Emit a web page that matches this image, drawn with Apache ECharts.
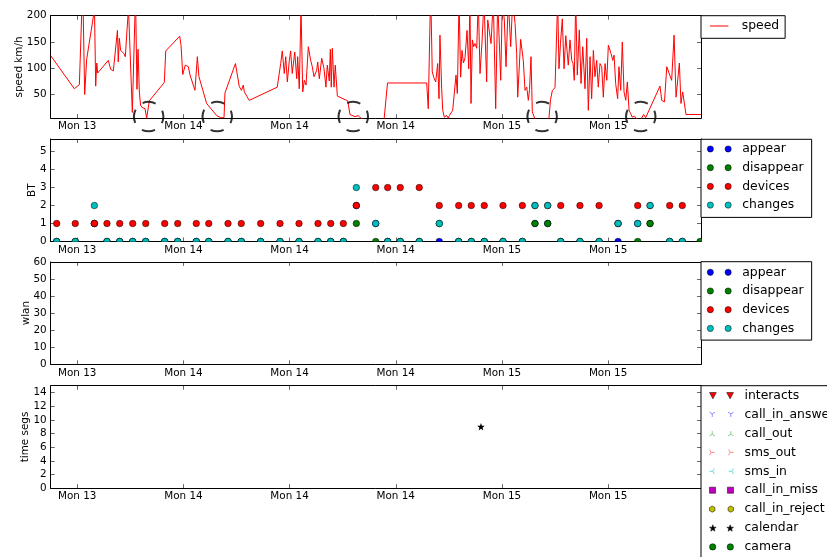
<!DOCTYPE html>
<html>
<head>
<meta charset="utf-8">
<script src="https://cdn.jsdelivr.net/npm/echarts@6/dist/echarts.min.js"></script>
<style>
  html, body { margin: 0; padding: 0; background: #fff; }
  #chart { width: 827px; height: 557px; }
</style>
</head>
<body>
<div id="chart"></div>
<script>
// x axis = hours counted from the midnight before "Mon 13"
const tickHours = [16, 24, 32, 40, 48, 56];
const tickLabels = ['Mon 13', 'Mon 14', 'Mon 14', 'Mon 14', 'Mon 15', 'Mon 15'];

const speedTicks = [50, 100, 150, 200];
const btTicks = [0, 1, 2, 3, 4, 5];
const wlanTicks = [0, 10, 20, 30, 40, 50, 60];
const segTicks = [0, 2, 4, 6, 8, 10, 12, 14];

const speedHours = [
  14.00, 15.78, 16.16, 16.41, 16.56, 16.71, 17.30, 17.39, 17.47, 17.54,
  18.34, 18.52, 18.72, 19.03, 19.09, 19.17, 19.27, 19.40, 19.52, 19.62,
  19.86, 20.15, 20.39, 20.50, 20.58, 20.68, 20.77, 20.86, 21.11, 21.23,
  21.35, 21.43, 22.56, 22.67, 23.72, 23.82, 23.95, 24.14, 24.25, 24.37,
  24.50, 24.87, 25.05, 25.17, 25.75, 26.51, 26.64, 26.81, 26.96, 27.06,
  27.13, 27.92, 28.21, 28.38, 28.51, 28.59, 28.96, 31.07, 31.33, 31.45,
  31.60, 31.71, 31.83, 31.98, 32.08, 32.20, 32.39, 32.54, 32.61, 32.73,
  32.86, 32.99, 33.11, 33.24, 33.41, 33.59, 33.71, 33.84, 34.04, 34.12,
  34.24, 34.42, 34.59, 34.74, 34.84, 34.99, 35.07, 35.14, 35.22, 35.35,
  35.44, 35.60, 36.38, 36.55, 36.70, 36.93, 37.00, 37.18, 37.31, 37.46,
  37.76, 39.11, 39.38, 42.33, 42.45, 42.63, 42.75, 42.90, 43.01, 43.16,
  43.26, 43.33, 43.46, 43.54, 43.66, 43.84, 43.96, 44.04, 44.16, 44.29,
  44.41, 44.54, 44.64, 44.77, 44.89, 44.99, 45.10, 45.22, 45.37, 45.50,
  45.59, 45.67, 45.77, 45.87, 45.97, 46.10, 46.22, 46.35, 46.50, 46.65,
  46.85, 46.93, 47.18, 47.35, 47.53, 47.68, 47.91, 48.03, 48.18, 48.31,
  48.48, 48.66, 48.81, 48.99, 49.11, 49.19, 49.41, 49.61, 49.74, 49.87,
  49.99, 50.08, 50.19, 50.29, 50.44, 50.57, 51.40, 51.55, 51.66, 51.80,
  52.00, 52.20, 52.30, 52.41, 52.55, 52.68, 52.81, 53.00, 53.13, 53.26,
  53.36, 53.45, 53.56, 53.68, 53.83, 53.96, 54.09, 54.26, 54.39, 54.51,
  54.64, 54.76, 54.89, 55.01, 55.14, 55.26, 55.39, 55.52, 55.64, 55.77,
  55.90, 56.02, 56.22, 56.35, 56.45, 56.57, 56.72, 56.82, 56.95, 57.07,
  57.20, 57.33, 57.45, 57.58, 57.70, 57.82, 57.98, 58.16, 58.40, 58.68,
  58.83, 58.97, 59.91, 60.04, 60.14, 60.25, 60.42, 60.79, 60.97, 61.12,
  61.23, 61.37, 61.49, 61.62, 61.87, 63.00
];
const speedKmh = [
  124, 61, 69, 260, 50, 117, 212, 66, 110, 91,
  115, 98, 95, 172, 112, 157, 134, 136, 128, 122,
  215, 16, 240, 60, 136, 55, 30, 26, 23, 5,
  3, 38, 73, 133, 161, 144, 88, 106, 106, 103,
  87, 58, 122, 84, 33, 10, 13, 6, 4, 6,
  53, 109, 65, 58, 68, 55, 39, 64, 109, 133,
  90, 122, 74, 115, 133, 90, 131, 80, 122, 61,
  215, 55, 77, 68, 141, 115, 103, 84, 96, 112,
  80, 119, 100, 64, 106, 76, 136, 64, 138, 64,
  106, 47, 38, 12, 10, 8, 6, 10, 6, 4,
  0, 0, 72, 72, 23, 250, 93, 80, 74, 109,
  42, 163, 61, 20, 7, 10, 5, 10, 9, 20,
  17, 87, 52, 230, 83, 134, 110, 120, 172, 99,
  230, 33, 154, 141, 147, 138, 230, 90, 150, 230,
  74, 192, 147, 230, 23, 230, 77, 230, 192, 103,
  230, 141, 230, 185, 128, 45, 155, 115, 58, 64,
  39, 60, 122, 17, 7, 0, 0, 7, 40, 58,
  63, 230, 99, 147, 194, 99, 162, 106, 154, 115,
  109, 77, 230, 87, 173, 71, 141, 61, 157, 20,
  122, 42, 134, 84, 115, 64, 109, 103, 45, 109,
  77, 144, 128, 115, 125, 71, 42, 103, 58, 150,
  55, 39, 74, 20, 14, 7, 9, 4, 0, 12,
  6, 8, 66, 39, 42, 36, 103, 77, 163, 45,
  48, 110, 33, 55, 12, 12
];

// dashed rings marking the gaps at the bottom of the speed panel
const gapHours = [21.38, 26.55, 36.80, 51.03, 58.46];
const gapKmh = [8, 8, 8, 8, 8];

const btHours = [
  14.45, 15.85, 17.29, 18.24, 19.20, 20.18, 21.16, 22.59, 23.57, 24.97,
  25.91, 27.36, 28.36, 29.82, 31.28, 32.71, 34.14, 35.10, 36.05, 37.03,
  38.49, 39.39, 40.34, 41.77, 43.28, 44.74, 45.69, 46.67, 48.08, 49.54,
  50.49, 51.45, 52.43, 53.88, 55.32, 56.75, 58.23, 59.16, 60.64, 61.59,
  62.93
];
const btAppear = [
  0, 0, 1, 0, 0, 0, 0, 0, 0, 0,
  0, 0, 0, 0, 0, 0, 0, 0, 0, 2,
  1, 0, 0, 0, 0, 0, 0, 0, 0, 0,
  1, 1, 0, 0, 0, 0, 1, 1, 0, 0,
  null
];
const btDisappear = [
  0, 0, 1, 0, 0, 0, 0, 0, 0, 0,
  0, 0, 0, 0, 0, 0, 0, 0, 0, 1,
  0, 0, 0, 0, 1, 0, 0, 0, 0, 0,
  1, 1, 0, 0, 0, 1, 0, 1, 0, 0,
  0
];
const btDevices = [
  1, 1, 1, 1, 1, 1, 1, 1, 1, 1,
  1, 1, 1, 1, 1, 1, 1, 1, 1, 2,
  3, 3, 3, 3, 2, 2, 2, 2, 2, 2,
  2, 2, 2, 2, 2, 1, 2, 2, 2, 2,
  null
];
const btChanges = [
  0, 0, 2, 0, 0, 0, 0, 0, 0, 0,
  0, 0, 0, 0, 0, 0, 0, 0, 0, 3,
  1, 0, 0, 0, 1, 0, 0, 0, 0, 0,
  2, 2, 0, 0, 0, 1, 1, 2, 0, 0,
  null
];

const calendarHours = [46.42];
const calendarSegs = [9];

const FONT = 'DejaVu Sans';
const BLACK = '#000';
const gridTops = [15.7, 139, 261.9, 385.7];

const axisConf = [
  { min: 5, max: 200, ticks: speedTicks, name: 'speed km/h', gap: 26.4 },
  { min: 0, max: 5.7, ticks: btTicks, name: 'BT', gap: 13 },
  { min: 0, max: 60, ticks: wlanTicks, name: 'wlan', gap: 19 },
  { min: 0, max: 15, ticks: segTicks, name: 'time segs', gap: 20 }
];

const frameLine = { color: BLACK, width: 1 };
const tickLine = { color: BLACK, width: 0.6 };

const xAxes = [];
const yAxes = [];
axisConf.forEach((c, i) => {
  ['bottom', 'top'].forEach(pos => xAxes.push({
    type: 'value', gridIndex: i, position: pos, min: 14, max: 63,
    axisLine: { show: true, onZero: false, lineStyle: frameLine },
    axisTick: { show: true, inside: true, length: 4, customValues: tickHours, lineStyle: tickLine },
    axisLabel: {
      show: pos === 'bottom', customValues: tickHours, margin: 3.5,
      formatter: v => tickLabels[tickHours.indexOf(v)] || '',
      fontFamily: FONT, fontSize: 10.4, color: BLACK
    },
    splitLine: { show: false }
  }));
  ['left', 'right'].forEach(pos => yAxes.push({
    type: 'value', gridIndex: i, position: pos, min: c.min, max: c.max,
    name: pos === 'left' ? c.name : '', nameLocation: 'middle', nameGap: c.gap,
    nameMoveOverlap: false,
    nameTextStyle: { fontFamily: FONT, fontSize: 10.4, color: BLACK },
    axisLine: { show: true, onZero: false, lineStyle: frameLine },
    axisTick: { show: true, inside: true, length: 4, customValues: c.ticks, lineStyle: tickLine },
    axisLabel: {
      show: pos === 'left', customValues: c.ticks, margin: 4,
      fontFamily: FONT, fontSize: 10.4, color: BLACK
    },
    splitLine: { show: false }
  }));
});

// marker shapes (used twice side by side in the legends, like numpoints=2)
const OFF = 17.7;
const circ = r => dx => `M${dx - r} 0A${r} ${r} 0 1 0 ${dx + r} 0A${r} ${r} 0 1 0 ${dx - r} 0Z`;
const spokes = pts => dx => pts.map(p => `M${dx} 0L${dx + p[0]} ${p[1]}`).join('');
const triDown = spokes([[0, 3], [-2.6, -1.5], [2.6, -1.5]]);
const triUp = spokes([[0, -3], [-2.6, 1.5], [2.6, 1.5]]);
const triLeft = spokes([[-3, 0], [1.5, -2.6], [1.5, 2.6]]);
const triRight = spokes([[3, 0], [-1.5, -2.6], [-1.5, 2.6]]);
const vTri = dx => `M${dx - 3.5} -3L${dx + 3.5} -3L${dx} 3.5Z`;
const square = dx => `M${dx - 3} -3L${dx + 3} -3L${dx + 3} 3L${dx - 3} 3Z`;
const polygon = (n, radii) => dx => {
  let s = '';
  for (let k = 0; k < n; k++) {
    const a = -Math.PI / 2 + k * 2 * Math.PI / n;
    const r = radii[k % radii.length];
    s += (k ? 'L' : 'M') + (dx + r * Math.cos(a)).toFixed(2) + ' ' + (r * Math.sin(a)).toFixed(2);
  }
  return s + 'Z';
};
const hexa = polygon(6, [3]);
const star = polygon(10, [3.6, 1.5]);
const pair = shape => 'path://' + shape(0) + shape(OFF);
const one = shape => 'path://' + shape(0);

const dotColors = { appear: '#0000ff', disappear: '#008000', devices: '#ff0000', changes: '#00bfbf' };

// round markers drawn as a custom series so they get cut at the frame like matplotlib does
const dots = (name, grid, xs, ys, color) => ({
  type: 'custom', name: name, xAxisIndex: 2 * grid, yAxisIndex: 2 * grid,
  clip: true, silent: true,
  data: xs.map((x, i) => [x, ys[i]]).filter(p => p[1] !== null && p[1] !== undefined),
  encode: { x: 0, y: 1 },
  itemStyle: { color: color },
  renderItem: (params, api) => {
    const p = api.coord([api.value(0), api.value(1)]);
    return {
      type: 'circle',
      shape: { cx: p[0], cy: p[1], r: 3.25 },
      style: { fill: color, stroke: BLACK, lineWidth: 0.5 }
    };
  }
});

const marks = (name, grid, xs, ys, color, symbol, size) => ({
  type: 'scatter', name: name, xAxisIndex: 2 * grid, yAxisIndex: 2 * grid,
  data: xs.map((x, i) => [x, ys[i]]),
  symbol: symbol, symbolSize: size, silent: true,
  itemStyle: { color: color, opacity: 1 }
});

const series = [
  {
    type: 'line', name: 'speed', xAxisIndex: 0, yAxisIndex: 0,
    data: speedHours.map((h, i) => [h, speedKmh[i]]),
    showSymbol: false, symbol: 'none', clip: true, silent: true,
    lineStyle: { color: '#ff0000', width: 1 }, itemStyle: { color: '#ff0000' }
  },
  {
    type: 'scatter', xAxisIndex: 0, yAxisIndex: 0, clip: false, silent: true, z: 5,
    data: gapHours.map((h, i) => [h, gapKmh[i]]),
    symbol: 'circle', symbolSize: 29.5,
    itemStyle: { color: 'rgba(0,0,0,0)', borderColor: BLACK, borderWidth: 2, borderType: [13.5, 9.7], borderDashOffset: 6.75 }
  },
  dots('appear', 1, btHours, btAppear, dotColors.appear),
  dots('disappear', 1, btHours, btDisappear, dotColors.disappear),
  dots('devices', 1, btHours, btDevices, dotColors.devices),
  dots('changes', 1, btHours, btChanges, dotColors.changes),
  dots('appear', 2, [], [], dotColors.appear),
  dots('disappear', 2, [], [], dotColors.disappear),
  dots('devices', 2, [], [], dotColors.devices),
  dots('changes', 2, [], [], dotColors.changes),
  marks('interacts', 3, [], [], '#ff0000', 'triangle', 7),
  marks('call_in_answer', 3, [], [], '#8c8cff', 'circle', 6),
  marks('call_out', 3, [], [], '#88cc88', 'circle', 6),
  marks('sms_out', 3, [], [], '#ff8888', 'circle', 6),
  marks('sms_in', 3, [], [], '#66dddd', 'circle', 6),
  marks('call_in_miss', 3, [], [], '#bf00bf', 'rect', 6),
  marks('call_in_reject', 3, [], [], '#bfbf00', 'circle', 6),
  marks('calendar', 3, calendarHours, calendarSegs, BLACK, one(star), 7.5),
  marks('camera', 3, [], [], '#008000', 'circle', 6.5)
];

const filled = (name, icon, color) => ({ name, icon, itemStyle: { color, borderColor: BLACK, borderWidth: 0.5 } });
const stroked = (name, icon, color) => ({ name, icon, itemStyle: { color: 'none', borderColor: color, borderWidth: 1 } });

const legendBase = (top, padding, gap, data, extra) => Object.assign({
  orient: 'vertical', left: 701, top: top, padding: padding,
  itemWidth: 24, itemHeight: 14, itemGap: gap,
  borderColor: BLACK, borderWidth: 1, borderRadius: 0, backgroundColor: '#fff',
  selectedMode: false,
  textStyle: { fontFamily: FONT, fontSize: 12.4, color: BLACK, padding: [0, 0, 0, 6] },
  data: data
}, extra || {});

const dotLegend = () => ['appear', 'disappear', 'devices', 'changes']
  .map(n => filled(n, pair(circ(3.1)), dotColors[n]));

const legends = [
  legendBase(15.7, [4.3, 6, 6.3, 9], 6.7, [
    { name: 'speed', icon: 'path://M0 0L18 0L18 1L0 1Z', itemStyle: { color: '#ff0000', borderWidth: 0 } }
  ], { itemWidth: 18.3, textStyle: { fontFamily: FONT, fontSize: 12.4, color: BLACK, padding: [0, 0, 0, 8.4] } }),
  legendBase(139.3, [3.7, 8, 6.3, 6], 6.7, dotLegend()),
  legendBase(261.7, [4.6, 8, 5.7, 6], 6.7, dotLegend()),
  legendBase(385.7, [4, 8, 5, 6], 6.9, [
    filled('interacts', pair(vTri), '#ff0000'),
    stroked('call_in_answer', pair(triDown), '#8c8cff'),
    stroked('call_out', pair(triUp), '#88cc88'),
    stroked('sms_out', pair(triRight), '#ff8888'),
    stroked('sms_in', pair(triLeft), '#66dddd'),
    filled('call_in_miss', pair(square), '#bf00bf'),
    filled('call_in_reject', pair(hexa), '#bfbf00'),
    filled('calendar', pair(star), BLACK),
    filled('camera', pair(circ(3.2)), '#008000')
  ], { height: 400 })
];

const chart = echarts.init(document.getElementById('chart'));
chart.setOption({
  animation: false,
  backgroundColor: '#fff',
  grid: gridTops.map(t => ({ left: 50.7, top: t, width: 650.3, height: 102.5 })),
  xAxis: xAxes,
  yAxis: yAxes,
  legend: legends,
  series: series
});
</script>
</body>
</html>
